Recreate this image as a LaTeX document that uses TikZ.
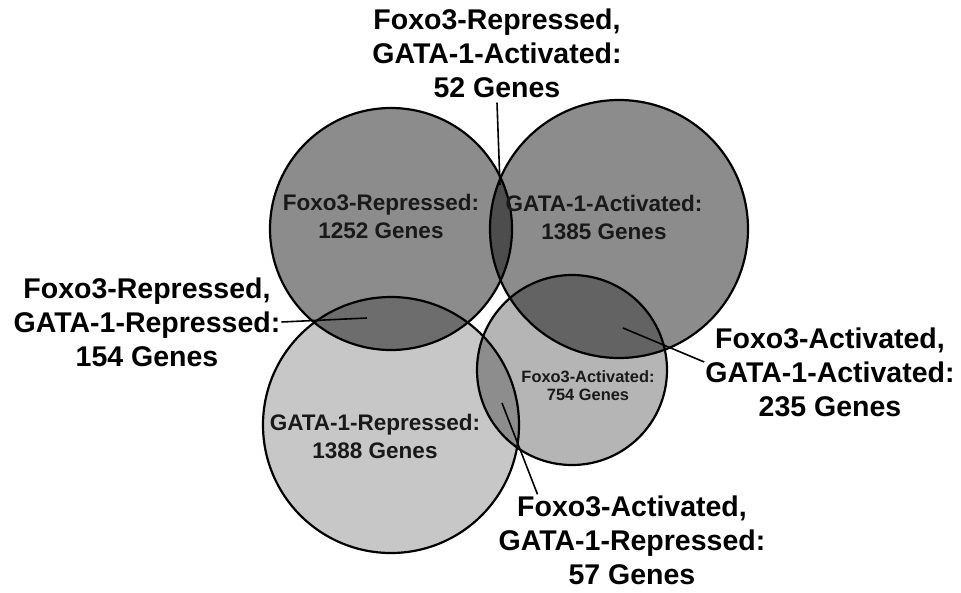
\documentclass[tikz,border=0pt]{standalone}
\usepackage{fontspec}
\setmainfont{Liberation Sans}
\begin{document}
\begin{tikzpicture}[x=1pt,y=-1pt,
    outer/.style={align=center,inner sep=1pt,font=\bfseries\fontsize{28.5}{34}\selectfont},
    inner/.style={align=center,inner sep=1pt,text=black!90,font=\bfseries\fontsize{22.5}{28}\selectfont},
    small/.style={inner,font=\bfseries\fontsize{16.4}{18}\selectfont},
    rim/.style={line width=2.2pt},
    leader/.style={line width=1.6pt}]
\useasboundingbox (0,0) rectangle (961,592);
% shaded sets
\fill[black,fill opacity=.45](391,229)circle(121pt);
\fill[black,fill opacity=.45](619,229)circle(129pt);
\fill[black,fill opacity=.22](391,425)circle(128pt);
\fill[black,fill opacity=.29](572,370)circle(95pt);
\draw[rim](391,229)circle(121pt);
\draw[rim](619,229)circle(129pt);
\draw[rim](391,425)circle(128pt);
\draw[rim](572,370)circle(95pt);
% set names
\node[inner](foxrep)at(381,216){Foxo3-Repressed:\\1252 Genes};
\node[inner](gataact)at(604,217){GATA-1-Activated:\\1385 Genes};
\node[inner](gatarep)at(375,436){GATA-1-Repressed:\\1388 Genes};
\node[small](foxact)at(588,386){Foxo3-Activated:\\754 Genes};
% overlaps
\coordinate(tipAB)at(500,185);
\coordinate(tipAC)at(367,318);
\coordinate(tipBD)at(623,328);
\coordinate(tipCD)at(502,403);
\node[outer](labAB)at(497,53){Foxo3-Repressed,\\GATA-1-Activated:\\52 Genes};
\node[outer](labAC)at(147,322){Foxo3-Repressed,\\GATA-1-Repressed:\\154 Genes};
\node[outer](labBD)at(830,372){Foxo3-Activated,\\GATA-1-Activated:\\235 Genes};
\node[outer](labCD)at(632,540){Foxo3-Activated,\\GATA-1-Repressed:\\57 Genes};
\draw[leader]([yshift=-4pt]labAB.south)--(tipAB);
\draw[leader](labAC.east)--(tipAC);
\draw[leader]([yshift=10pt]labBD.west)--(tipBD);
\draw[leader]([xshift=40pt]labCD.north west)--(tipCD);
\end{tikzpicture}
\end{document}
